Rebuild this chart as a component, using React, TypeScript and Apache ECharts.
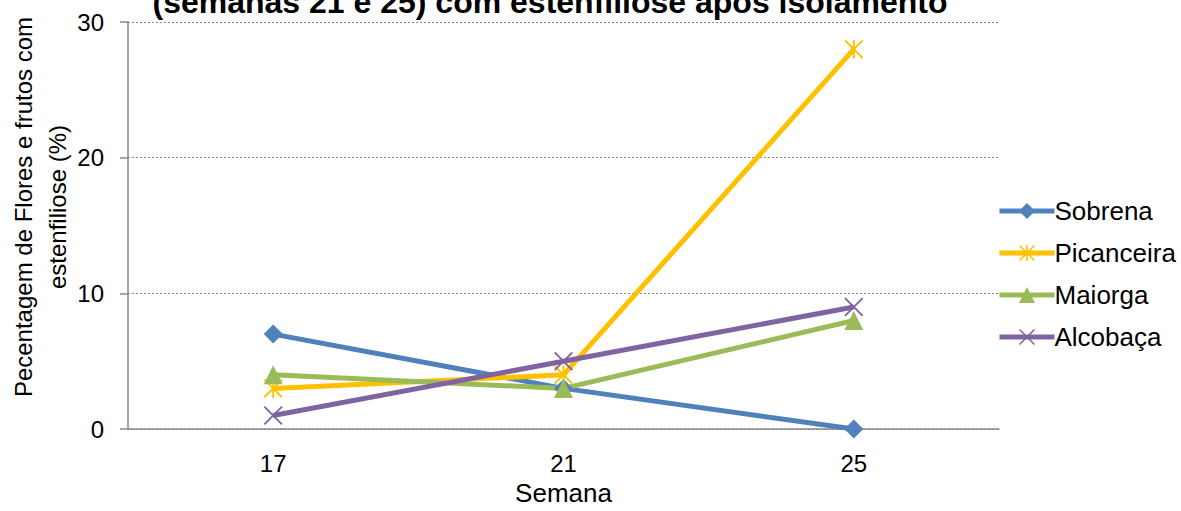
import React, { useEffect, useRef } from "react";
import * as echarts from "echarts";

const weeks = ["17", "21", "25"];
const sobrena = [7, 3, 0];
const picanceira = [3, 4, 28];
const maiorga = [4, 3, 8];
const alcobaca = [1, 5, 9];
const yTicks = { min: 0, max: 30, interval: 10 };

const FONT = '"Liberation Sans", Arial, sans-serif';

const STAR =
  "path://M9 0H11V20H9Z M0 1.4L1.4 0L20 18.6L18.6 20Z M18.6 0L20 1.4L1.4 20L0 18.6Z";
const CROSS = "path://M0 1.4L1.4 0L20 18.6L18.6 20Z M18.6 0L20 1.4L1.4 20L0 18.6Z";

export default function App() {
  const ref = useRef<HTMLDivElement>(null);
  useEffect(() => {
    if (!ref.current) return;
    const chart = echarts.init(ref.current, undefined, { renderer: "svg" });
    const mk = (name: string, data: number[], color: string, symbol: string, size: number) => ({
      name,
      type: "line",
      data,
      symbol,
      symbolSize: size,
      showAllSymbol: true,
      lineStyle: { color, width: 5 },
      itemStyle: { color, borderWidth: 0 },
      emphasis: { disabled: true },
    });
    chart.setOption({
      animation: false,
      textStyle: { fontFamily: FONT },
      grid: { left: 128, width: 871, top: 22, height: 421, containLabel: false },
      xAxis: {
        type: "category",
        data: weeks,
        boundaryGap: true,
        name: "Semana",
        nameLocation: "middle",
        nameGap: 45,
        nameTextStyle: { color: "#000", fontSize: 26, fontFamily: FONT },
        axisLine: { lineStyle: { color: "#888", width: 1.5 } },
        axisTick: { alignWithLabel: true, length: 6, lineStyle: { color: "#888", width: 1.5 } },
        axisLabel: { color: "#000", fontSize: 24, margin: 22, fontFamily: FONT },
        splitLine: { show: false },
      },
      yAxis: {
        type: "value",
        min: yTicks.min,
        max: yTicks.max,
        interval: yTicks.interval,
        axisLine: { show: true, lineStyle: { color: "#888", width: 1.5 } },
        axisTick: { show: true, length: 8, lineStyle: { color: "#888", width: 1.5 } },
        axisLabel: { color: "#000", fontSize: 24, margin: 24, fontFamily: FONT },
        splitLine: { show: true, lineStyle: { color: "#888", type: [2, 2], width: 1 } },
      },
      legend: {
        orient: "vertical",
        left: 997,
        top: 198,
        padding: 0,
        itemWidth: 55,
        itemHeight: 20,
        itemGap: 16,
        lineStyle: { width: 5 },
        textStyle: { color: "#000", fontSize: 26, fontFamily: FONT, padding: [0, 0, 0, -5] },
        data: ["Sobrena", "Picanceira", "Maiorga", "Alcobaça"],
      },
      graphic: [
        {
          type: "text",
          x: 550,
          y: 1.5,
          style: {
            text: "(semanas 21 e 25) com estenfiliose após isolamento",
            fill: "#000",
            font: `bold 32px ${FONT}`,
            textAlign: "center",
            textVerticalAlign: "middle",
          },
        },
        {
          type: "text",
          x: 40,
          y: 207,
          rotation: Math.PI / 2,
          style: {
            text: "Pecentagem de Flores e frutos com\nestenfiliose (%)",
            fill: "#000",
            font: `24px ${FONT}`,
            lineHeight: 34,
            textAlign: "center",
            textVerticalAlign: "middle",
          },
        },
      ],
      series: [
        mk("Sobrena", sobrena, "#4F81BD", "diamond", 19),
        mk("Picanceira", picanceira, "#FFC000", STAR, 19),
        mk("Maiorga", maiorga, "#9BBB59", "triangle", 19),
        mk("Alcobaça", alcobaca, "#8064A2", CROSS, 19),
      ],
    });
    return () => chart.dispose();
  }, []);
  return (
    <div
      ref={ref}
      style={{ position: "absolute", left: 0, top: 0, width: 1181, height: 511, background: "#fff" }}
    />
  );
}
